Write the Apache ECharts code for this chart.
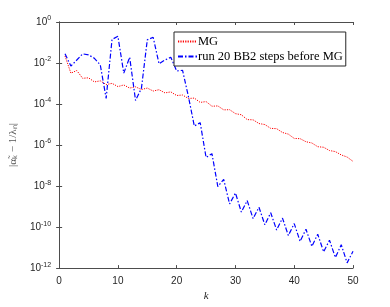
<!DOCTYPE html>
<html>
<head>
<meta charset="utf-8">
<script src="https://cdn.jsdelivr.net/npm/echarts@6/dist/echarts.min.js"></script>
<style>html,body{margin:0;padding:0;background:#fff}#c{width:390px;height:307px}</style>
</head>
<body>
<div id="c"></div>
<script>
const kValues = [1,2,3,4,5,6,7,8,9,10,11,12,13,14,15,16,17,18,19,20,21,22,23,24,25,26,27,28,29,30,31,32,33,34,35,36,37,38,39,40,41,42,43,44,45,46,47,48,49,50];
const mgValues = [2.2e-2,3.2e-3,4.3e-3,1.8e-3,1.9e-3,1.2e-3,1.35e-3,8.9e-4,1.02e-3,7.1e-4,
  8.5e-4,6.0e-4,6.9e-4,5.1e-4,6.0e-4,4.3e-4,5.0e-4,3.5e-4,3.9e-4,2.6e-4,
  2.75e-4,1.86e-4,1.95e-4,1.2e-4,1.32e-4,7.8e-5,8.1e-5,5.2e-5,5.3e-5,3.4e-5,
  3.0e-5,1.74e-5,1.7e-5,1.12e-5,1.0e-5,6.5e-6,6.3e-6,4.1e-6,3.4e-6,2.1e-6,
  2.05e-6,1.45e-6,1.26e-6,8.3e-7,7.8e-7,5.4e-7,4.8e-7,3.3e-7,2.6e-7,1.6e-7];
const bbValues = [2.8e-2,7.1e-3,1.4e-2,2.8e-2,2.5e-2,1.7e-2,8.1e-3,1.9e-4,1.41e-1,2.0e-1,
  3.2e-3,1.9e-2,1.5e-4,5.8e-4,1.35e-1,1.8e-1,9.1e-3,1.4e-2,1.9e-2,4.1e-3,
  4.4e-3,2.3e-4,8.5e-6,1.23e-5,2.5e-7,3.8e-7,9.5e-9,2.1e-8,1.35e-9,4.6e-9,
  5.4e-10,1.95e-9,2.6e-10,9.3e-10,1.3e-10,5.0e-10,7.2e-11,2.75e-10,3.9e-11,1.48e-10,
  2.0e-11,7.9e-11,1.15e-11,4.5e-11,6.2e-12,2.3e-11,3.3e-12,1.38e-11,1.8e-12,6.6e-12];
const xTicks = [0,10,20,30,40,50];
const seriesNames = ['MG', 'run 20 BB2 steps before MG'];
const yLabel = '|α\u0303\u2096 \u2212 1/λ\u2099|';
const xLabel = 'k';

const axisColor = '#4d4d4d';
const chart = echarts.init(document.getElementById('c'));
function pairs(vals){ return kValues.map((k,i)=>[k, vals[i]]); }
const logLabel = {
  color: '#262626', fontFamily: 'Liberation Sans, Arial', fontSize: 10,
  formatter: function(v){ const e = Math.round(Math.log10(v)); return '{b|10}{s|' + e + '}'; },
  rich: {
    b: {fontSize: 10, color: '#262626', fontFamily: 'Liberation Sans'},
    s: {fontSize: 7, color: '#262626', fontFamily: 'Liberation Sans', verticalAlign: 'top', padding: [0,0,7,0]}
  }
};
chart.setOption({
  animation: false,
  backgroundColor: '#fff',
  grid: {left: 50, right: 37, top: 22, bottom: 34, containLabel: false},
  legend: {
    left: 174, top: 32, orient: 'vertical', itemGap: 2,
    padding: [3, 3, 3, 3],
    borderColor: '#262626', borderWidth: 1, backgroundColor: '#fff',
    itemWidth: 19, itemHeight: 10,
    itemStyle: {opacity: 0},
    textStyle: {fontFamily: 'Liberation Serif, Times New Roman, serif', fontSize: 12.5, color: '#000', padding: [0,0,0,-4]},
    data: seriesNames
  },
  xAxis: [{
    type: 'value', min: 0, max: 50, interval: 10, position: 'bottom',
    name: xLabel, nameLocation: 'middle', nameGap: 21,
    nameTextStyle: {fontFamily: 'Liberation Serif', fontStyle: 'italic', fontSize: 11, color: '#262626'},
    axisLine: {lineStyle: {color: axisColor, width: 1}},
    axisTick: {inside: true, length: 3, lineStyle: {color: axisColor}},
    axisLabel: {color: '#262626', fontFamily: 'Liberation Sans', fontSize: 10, margin: 8,
      formatter: function(v){ return xTicks.indexOf(v) >= 0 ? String(v) : ''; }},
    splitLine: {show: false}
  }, {
    type: 'value', min: 0, max: 50, interval: 10, position: 'top',
    axisLine: {lineStyle: {color: axisColor, width: 1}},
    axisTick: {inside: true, length: 3, lineStyle: {color: axisColor}},
    axisLabel: {show: false}, splitLine: {show: false}
  }],
  yAxis: [{
    type: 'log', logBase: 10, min: 1e-12, max: 1, interval: 2, position: 'left',
    name: yLabel, nameLocation: 'middle', nameGap: 24, nameRotate: 90,
    nameTextStyle: {fontFamily: 'Liberation Serif', fontSize: 11, color: '#555'},
    axisLine: {show: true, lineStyle: {color: axisColor, width: 1}},
    axisTick: {show: true, inside: true, length: 3, lineStyle: {color: axisColor}},
    minorTick: {show: false},
    axisLabel: logLabel,
    splitLine: {show: false}
  }, {
    type: 'log', logBase: 10, min: 1e-12, max: 1, interval: 2, position: 'right',
    axisLine: {show: true, lineStyle: {color: axisColor, width: 1}},
    axisTick: {show: true, inside: true, length: 3, lineStyle: {color: axisColor}},
    axisLabel: {show: false}, splitLine: {show: false}
  }],
  series: [{
    name: seriesNames[0], type: 'line', data: pairs(mgValues),
    symbol: 'none', color: '#ff0000',
    lineStyle: {color: '#ff0000', width: 1, type: [1.2, 1.2]}
  }, {
    name: seriesNames[1], type: 'line', data: pairs(bbValues),
    symbol: 'none', color: '#0000ff',
    lineStyle: {color: '#0000ff', width: 1.2, type: [5, 2, 1.5, 2]}
  }]
});
</script>
</body>
</html>
